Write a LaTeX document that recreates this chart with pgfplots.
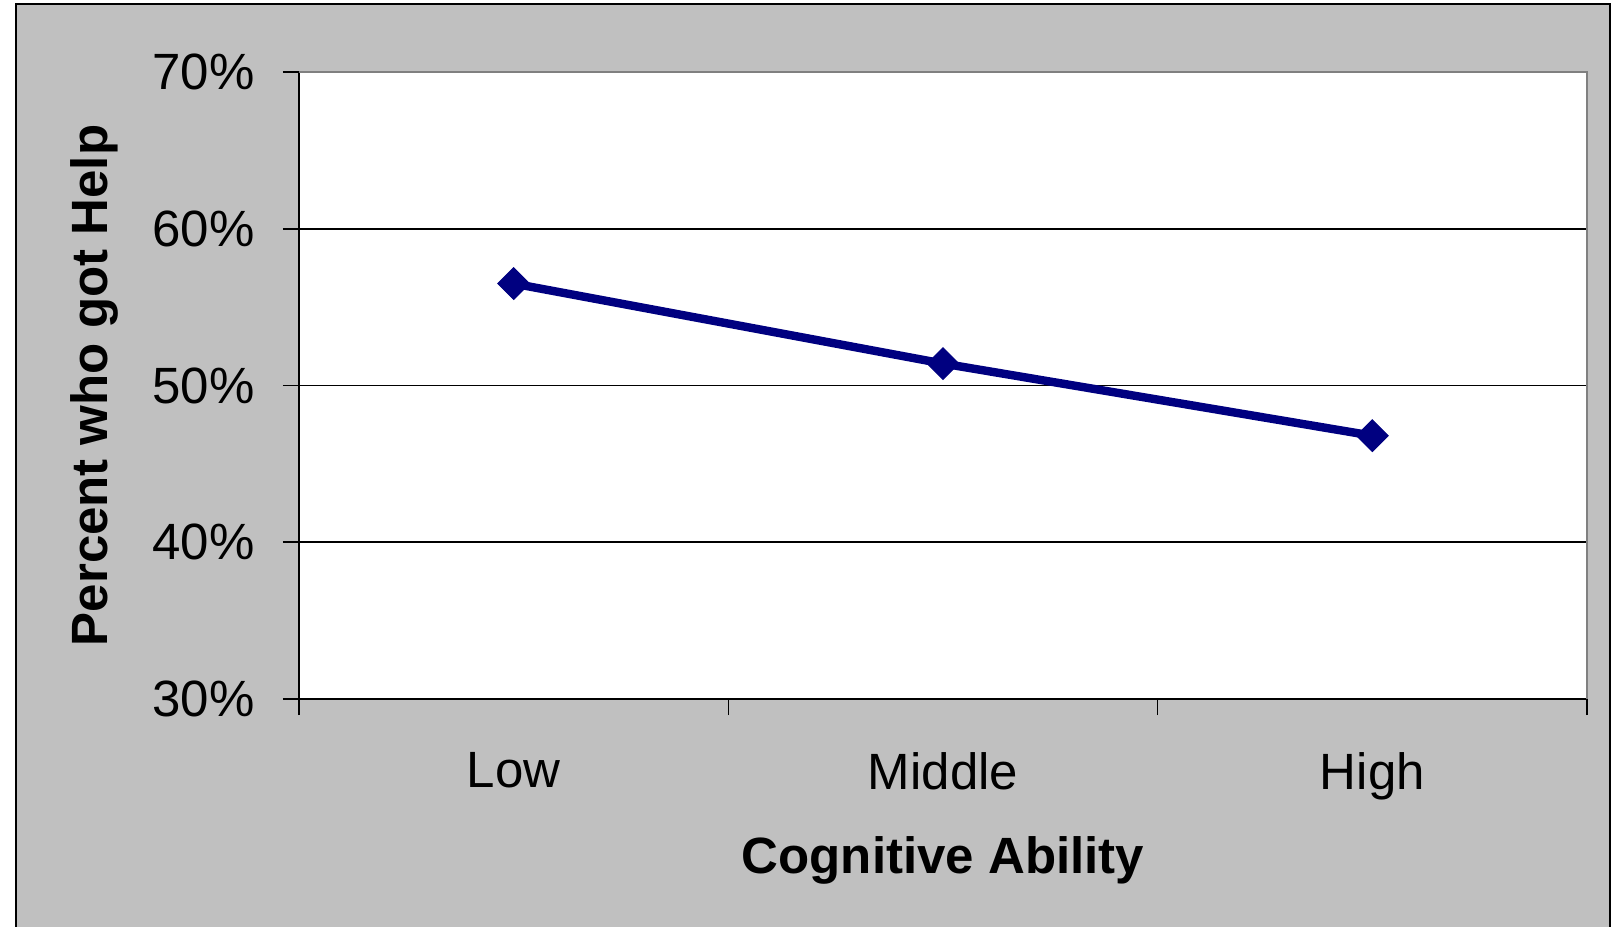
\documentclass[border=0pt]{standalone}
\usepackage{fontspec}
\setmainfont{Liberation Sans}
\usepackage{pgfplots}
\pgfplotsset{compat=1.18}
\definecolor{bggray}{RGB}{192,192,192}
\definecolor{navyline}{RGB}{0,0,128}
\definecolor{frame}{RGB}{128,128,128}
\newcommand{\chartfont}{\fontsize{25.5pt}{30pt}\selectfont}

\begin{document}
\begin{tikzpicture}
\useasboundingbox (0,0) rectangle (809.5pt,463.5pt);
\fill[bggray] (8pt,-10pt) rectangle (805pt,461.5pt);
\draw[black, line width=1pt] (8pt,-10pt) -- (8pt,461.5pt) -- (805pt,461.5pt) -- (805pt,-10pt);
\begin{axis}[
    at={(149.5pt,114pt)}, anchor=south west,
    scale only axis,
    width=644pt, height=313.5pt,
    xmin=0.5, xmax=3.5,
    ymin=30, ymax=70,
    axis background/.style={fill=white},
    axis x line*=bottom, axis y line*=left,
    axis line style={black, line width=0.8pt},
    xtick={1,2,3},
    xticklabels={Low,Middle,High},
    major x tick style={draw=none},
    minor xtick={0.5,1.5,2.5,3.5},
    ytick={30,40,50,60,70},
    yticklabels={30\%,40\%,50\%,60\%,70\%},
    tick align=outside,
    major tick length=8pt, minor tick length=8pt,
    tick style={black, line width=0.8pt},
    ymajorgrids,
    grid style={black, line width=0.8pt},
    tick label style={font=\chartfont, inner sep=0pt},
    yticklabel style={anchor=east, xshift=-14pt},
    xticklabel style={anchor=north, yshift=-18.5pt},
    xlabel={\bfseries Cognitive Ability},
    ylabel={\bfseries Percent who got Help},
    every axis x label/.style={at={(axis description cs:0.5,0)}, anchor=north,
      yshift=-68.5pt, font=\chartfont, inner sep=0pt},
    every axis y label/.style={at={(axis description cs:0,0.5)}, xshift=-95.5pt,
      rotate=90, anchor=base, font=\chartfont, inner sep=0pt},
    clip=false,
]
\addplot[navyline, line width=4.2pt, mark=square*, mark size=5.6pt,
  mark options={rotate=45, line width=0.5pt, fill=navyline}] coordinates {
  (1,56.5) (2,51.4) (3,46.8)
};
\draw[frame, line width=0.8pt] (rel axis cs:0,1) -- (rel axis cs:1,1) -- (rel axis cs:1,0);
\end{axis}
\end{tikzpicture}
\end{document}
